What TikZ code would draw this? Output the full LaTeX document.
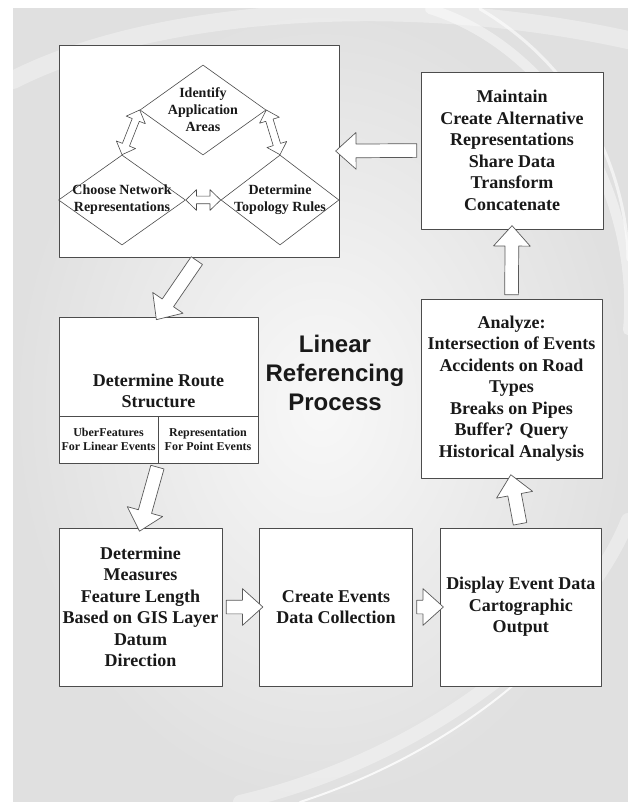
\documentclass[tikz,border=0pt]{standalone}
\usepackage{fontspec}
\setmainfont{Liberation Serif}
\newfontfamily\titlefont{Liberation Sans}
\usetikzlibrary{shapes.geometric,shapes.arrows,calc}
\definecolor{bgout}{RGB}{224,224,224}
\definecolor{bgin}{RGB}{248,248,248}
\tikzset{
  procbox/.style={draw=black!70, fill=white, line width=0.9pt, inner sep=2pt, align=center, text=black!90, font=\bfseries\fontsize{18}{21.5}\selectfont},
  subbox/.style={procbox, font=\bfseries\fontsize{12}{14}\selectfont},
  decision/.style={diamond, aspect=1.4, draw=black!70, line width=0.6pt, inner sep=-6pt, minimum height=90pt, align=center, text=black!90, font=\bfseries\fontsize{14}{17}\selectfont},
  bigarrow/.style={single arrow, draw=black!65, fill=white, line width=0.7pt, inner xsep=0pt, inner ysep=6.5pt, single arrow head extend=11.5pt, single arrow tip angle=84},
  smallarrow/.style={double arrow, draw=black!70, fill=white, line width=0.6pt, inner xsep=0pt, inner ysep=3.5pt, double arrow head extend=6.5pt, double arrow tip angle=88}
}
% hollow block arrow from #2 to #3
\newcommand\blockarrow[3][bigarrow]{%
  \path let \p1=(#2), \p2=(#3), \n1={atan2(\y2-\y1,\x2-\x1)}, \n2={veclen(\x2-\x1,\y2-\y1)} in
    node[#1, rotate=\n1, minimum height=\n2] at ($(\p1)!.5!(\p2)$) {};}
\begin{document}
\begin{tikzpicture}[x=1pt, y=-1pt, line join=round, line cap=round]
	\useasboundingbox (0,0) rectangle (628,802);
	% background
	\fill[white] (0,0) rectangle (628,802);
	\shade[inner color=bgin, outer color=bgout] (13,9) rectangle (628,802);
	\begin{scope}[white]
		\clip (13,9) rectangle (628,802);
		\draw[line width=18pt, opacity=.35] (13,80) .. controls (150,10) and (400,-10) .. (628,40);
		\draw[line width=10pt, opacity=.45] (430,9) .. controls (560,50) and (640,200) .. (628,330);
		\draw[line width=3pt, opacity=.6] (480,9) .. controls (600,80) and (628,200) .. (628,260);
		\draw[line width=14pt, opacity=.35] (240,802) .. controls (420,760) and (580,640) .. (628,520);
		\draw[line width=2pt, opacity=.8] (300,802) .. controls (430,760) and (540,680) .. (600,590);
	\end{scope}
	% top frame with the three decisions
	\node[procbox, minimum width=280pt, minimum height=212pt] (frame) at (199,151) {};
	\node[decision, minimum width=126pt] (identify) at (203,110) {Identify\\Application\\Areas};
	\node[decision, minimum width=127pt] (choose) at (122,200) {Choose Network\\Representations};
	\node[decision, minimum width=118pt] (topology) at (280,200) {Determine\\Topology Rules};
	\blockarrow[smallarrow]{choose.north}{identify.west}
	\blockarrow[smallarrow]{identify.east}{topology.north}
	\blockarrow[smallarrow]{choose.east}{topology.west}
	% process boxes
	\node[procbox, minimum width=182pt, minimum height=157pt] (maintain) at (512,150.5) {Maintain\\Create Alternative\\Representations\\Share Data\\Transform\\Concatenate};
	\node[procbox, minimum width=181pt, minimum height=179pt] (analyze) at (511.5,388.5) {Analyze:\\Intersection of Events\\Accidents on Road\\Types\\Breaks on Pipes\\Buffer? Query\\Historical Analysis};
	\node[procbox, minimum width=199pt, minimum height=99pt] (route) at (158.5,366.5) {};
	\node[procbox, draw=none, fill=none] (routetext) at (158.5,391) {Determine Route\\Structure};
	\node[subbox, minimum width=99pt, minimum height=47pt] (uber) at (108.5,439.5) {UberFeatures\\For Linear Events};
	\node[subbox, minimum width=100pt, minimum height=47pt] (point) at (208,439.5) {Representation\\For Point Events};
	\node[procbox, minimum width=163pt, minimum height=158pt] (measures) at (140.5,607) {Determine\\Measures\\Feature Length\\Based on GIS Layer\\Datum\\Direction};
	\node[procbox, minimum width=153pt, minimum height=158pt] (events) at (336,607) {Create Events\\Data Collection};
	\node[procbox, minimum width=161.5pt, minimum height=158pt] (display) at (520.75,607) {Display Event Data\\Cartographic\\Output};
	\node[font=\titlefont\bfseries\fontsize{24}{29}\selectfont, align=center, text=black!90] (title) at (335,373) {Linear\\Referencing\\Process};
	% flow
	\blockarrow{maintain.west}{frame.east}
	\blockarrow{frame.south}{route.north}
	\blockarrow{uber.south east}{measures.north}
	\blockarrow{measures.east}{events.west}
	\blockarrow{events.east}{display.west}
	\blockarrow{display.north}{analyze.south}
	\blockarrow{analyze.north}{maintain.south}
\end{tikzpicture}
\end{document}
